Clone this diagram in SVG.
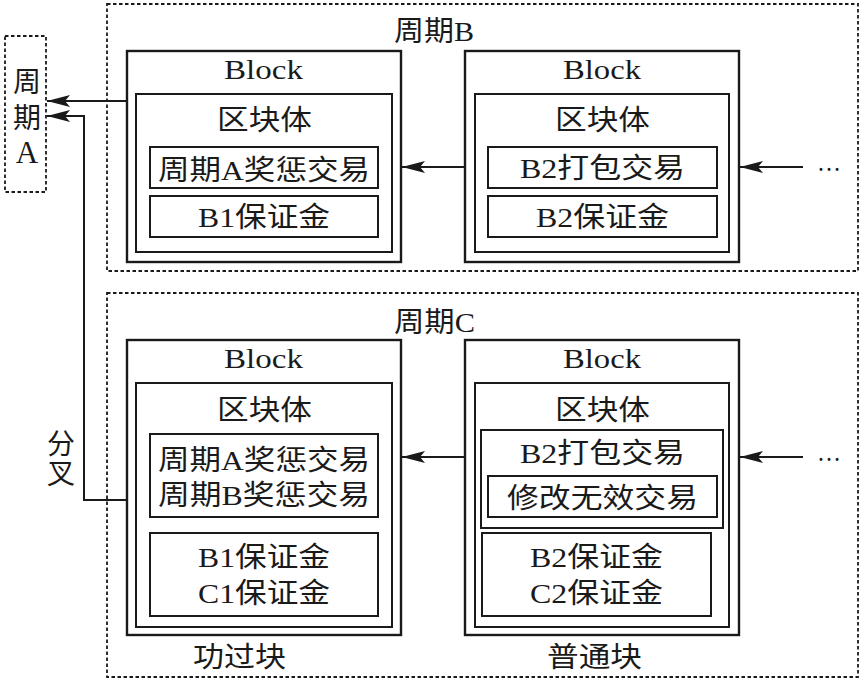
<svg xmlns="http://www.w3.org/2000/svg" width="863" height="680" viewBox="0 0 863 680">
<style>
text{font-family:"Liberation Serif","Noto Sans CJK SC",serif;font-size:28px;fill:#1a1a1a}
.c{text-anchor:middle}
.blk{fill:none;stroke:#1a1a1a;stroke-width:2.4}
.box{fill:none;stroke:#1a1a1a;stroke-width:2}
.dash{fill:none;stroke:#1a1a1a;stroke-width:1.8;stroke-dasharray:3.5 2.5}
.ln{fill:none;stroke:#1a1a1a;stroke-width:2;marker-end:url(#ah)}
</style>
<defs>
<marker id="ah" markerUnits="userSpaceOnUse" markerWidth="26" markerHeight="14" refX="23" refY="6" orient="auto">
<path d="M0,0 L23,6 L0,12 L5,6 Z" fill="#1a1a1a"/>
</marker>
</defs>
<rect width="863" height="680" fill="#fff"/>

<g id="periodA">
<rect class="dash" x="5" y="36" width="41" height="156"/>
<text x="27" y="92" class="c">周</text>
<text x="27" y="128" class="c">期</text>
<text x="27" y="163" class="c" style="font-size:31px">A</text>
</g>

<g id="periodB">
<rect class="dash" x="107" y="4" width="751" height="267"/>
<text x="394" y="41" textLength="80" lengthAdjust="spacingAndGlyphs">周期B</text>
</g>

<g id="blockB1">
<rect class="blk" x="127" y="51" width="274" height="211"/>
<text x="224" y="79" textLength="79" lengthAdjust="spacingAndGlyphs">Block</text>
<rect class="box" x="136" y="94" width="256" height="158"/>
<text x="217" y="130" textLength="95" lengthAdjust="spacingAndGlyphs">区块体</text>
<rect class="box" x="150" y="147" width="228" height="41"/>
<text x="158" y="180" textLength="212" lengthAdjust="spacingAndGlyphs">周期A奖惩交易</text>
<rect class="box" x="150" y="196" width="228" height="41"/>
<text x="198" y="227" textLength="132" lengthAdjust="spacingAndGlyphs">B1保证金</text>
</g>

<g id="blockB2">
<rect class="blk" x="465" y="51" width="274" height="211"/>
<text x="563" y="79" textLength="78" lengthAdjust="spacingAndGlyphs">Block</text>
<rect class="box" x="475" y="94" width="254" height="158"/>
<text x="555" y="130" textLength="95" lengthAdjust="spacingAndGlyphs">区块体</text>
<rect class="box" x="488" y="147" width="229" height="41"/>
<text x="520" y="178" textLength="165" lengthAdjust="spacingAndGlyphs">B2打包交易</text>
<rect class="box" x="488" y="196" width="229" height="41"/>
<text x="536" y="227" textLength="133" lengthAdjust="spacingAndGlyphs">B2保证金</text>
</g>
<text x="817" y="171" textLength="24" lengthAdjust="spacingAndGlyphs">…</text>

<g id="periodC">
<rect class="dash" x="107" y="293" width="751" height="384"/>
<text x="394" y="332" textLength="81" lengthAdjust="spacingAndGlyphs">周期C</text>
</g>

<g id="blockC1">
<rect class="blk" x="127" y="340" width="274" height="295"/>
<text x="224" y="368" textLength="79" lengthAdjust="spacingAndGlyphs">Block</text>
<rect class="box" x="136" y="383" width="256" height="244"/>
<text x="217" y="420" textLength="95" lengthAdjust="spacingAndGlyphs">区块体</text>
<rect class="box" x="150" y="434" width="228" height="83"/>
<text x="158" y="470" textLength="212" lengthAdjust="spacingAndGlyphs">周期A奖惩交易</text>
<text x="158" y="505" textLength="212" lengthAdjust="spacingAndGlyphs">周期B奖惩交易</text>
<rect class="box" x="150" y="533" width="228" height="83"/>
<text x="198" y="567" textLength="132" lengthAdjust="spacingAndGlyphs">B1保证金</text>
<text x="198" y="603" textLength="132" lengthAdjust="spacingAndGlyphs">C1保证金</text>
<text x="193" y="667" textLength="93" lengthAdjust="spacingAndGlyphs">功过块</text>
</g>

<g id="blockC2">
<rect class="blk" x="465" y="340" width="274" height="295"/>
<text x="563" y="368" textLength="78" lengthAdjust="spacingAndGlyphs">Block</text>
<rect class="box" x="475" y="383" width="254" height="244"/>
<text x="555" y="420" textLength="95" lengthAdjust="spacingAndGlyphs">区块体</text>
<rect class="box" x="481" y="430" width="242" height="98"/>
<text x="520" y="463" textLength="165" lengthAdjust="spacingAndGlyphs">B2打包交易</text>
<rect class="box" x="488" y="476" width="229" height="41"/>
<text x="507" y="508" textLength="191" lengthAdjust="spacingAndGlyphs">修改无效交易</text>
<rect class="box" x="482" y="533" width="229" height="83"/>
<text x="530" y="567" textLength="133" lengthAdjust="spacingAndGlyphs">B2保证金</text>
<text x="530" y="603" textLength="133" lengthAdjust="spacingAndGlyphs">C2保证金</text>
<text x="547" y="667" textLength="95" lengthAdjust="spacingAndGlyphs">普通块</text>
</g>
<text x="817" y="461" textLength="24" lengthAdjust="spacingAndGlyphs">…</text>

<g id="fork-label">
<text x="61" y="454" class="c">分</text>
<text x="61" y="484" class="c">叉</text>
</g>

<g id="connectors">
<path class="ln" d="M127,101 L47,101"/>
<path class="ln" d="M127,500 L84,500 L84,116 L47,116"/>
<path class="ln" d="M465,167 L402,167"/>
<path class="ln" d="M803,167 L740,167"/>
<path class="ln" d="M465,457 L402,457"/>
<path class="ln" d="M803,457 L740,457"/>
</g>
</svg>
